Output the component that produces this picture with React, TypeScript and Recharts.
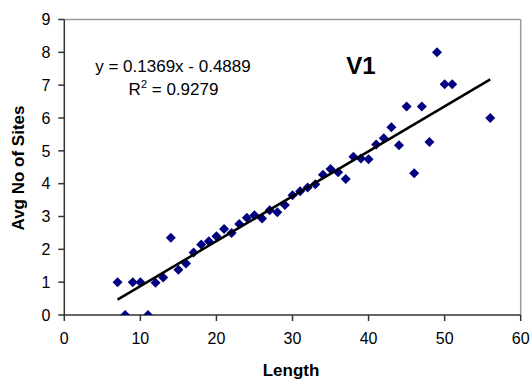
import React from "react";
import { ScatterChart, Scatter, XAxis, YAxis, ReferenceLine } from "recharts";

const lengths = [7, 8, 9, 10, 11, 12, 13, 14, 15, 16, 17, 18, 19, 20, 21, 22, 23, 24, 25, 26, 27, 28, 29, 30, 31, 32, 33, 34, 35, 36, 37, 38, 39, 40, 41, 42, 43, 44, 45, 46, 47, 48, 49, 50, 51, 56];
const avgSites = [1.0, 0, 1.0, 1.0, 0, 0.98, 1.14, 2.35, 1.38, 1.57, 1.9, 2.15, 2.25, 2.4, 2.62, 2.5, 2.77, 2.96, 3.04, 2.94, 3.19, 3.13, 3.35, 3.65, 3.77, 3.88, 3.98, 4.27, 4.45, 4.35, 4.14, 4.82, 4.77, 4.74, 5.19, 5.38, 5.72, 5.17, 6.35, 4.32, 6.35, 5.27, 8.0, 7.03, 7.03, 6.0];
const xTicks = [0, 10, 20, 30, 40, 50, 60];
const yTicks = [0, 1, 2, 3, 4, 5, 6, 7, 8, 9];
const trendSlope = 0.1369;
const trendIntercept = -0.4889;
const trendRange = [7, 56];

const points = lengths.map((x, i) => ({ x, y: avgSites[i] }));
const trend = trendRange.map((x) => ({ x, y: trendSlope * x + trendIntercept }));

const FONT = "'Liberation Sans', Arial, sans-serif";

const Diamond = (props: any) => {
  const { cx, cy } = props;
  const r = 5;
  return (
    <polygon
      points={`${cx},${cy - r} ${cx + r},${cy} ${cx},${cy + r} ${cx - r},${cy}`}
      fill="#000080"
    />
  );
};

const NoShape = () => <g />;

export default function App() {
  return (
    <div style={{ position: "absolute", left: 0, top: 0, width: 532, height: 381, background: "#fff" }}>
      <ScatterChart
        width={532}
        height={381}
        margin={{ top: 19.5, right: 11.3, bottom: 36, left: 0 }}
        style={{ fontFamily: FONT }}
      >
        <XAxis
          type="number"
          dataKey="x"
          domain={[0, 60]}
          ticks={xTicks}
          height={30}
          tickSize={6}
          tickMargin={12}
          axisLine={{ stroke: "#333", strokeWidth: 1.5 }}
          tickLine={{ stroke: "#333", strokeWidth: 1.5 }}
          tick={{ fill: "#000", fontSize: 16, fontFamily: FONT }}
          allowDataOverflow
        />
        <YAxis
          type="number"
          dataKey="y"
          domain={[0, 9]}
          ticks={yTicks}
          width={64.3}
          tickSize={6}
          tickMargin={8}
          axisLine={{ stroke: "#333", strokeWidth: 1.5 }}
          tickLine={{ stroke: "#333", strokeWidth: 1.5 }}
          tick={{ fill: "#000", fontSize: 16, fontFamily: FONT }}
          allowDataOverflow
        />
        <ReferenceLine y={9} stroke="#999" strokeWidth={1.5} />
        <ReferenceLine x={60} stroke="#999" strokeWidth={1.5} />
        <Scatter data={points} shape={Diamond} isAnimationActive={false} />
        <Scatter
          data={trend}
          shape={NoShape}
          line={{ stroke: "#000", strokeWidth: 2.5 }}
          isAnimationActive={false}
        />
      </ScatterChart>
      <svg
        width={532}
        height={381}
        style={{ position: "absolute", left: 0, top: 0, pointerEvents: "none", fontFamily: FONT }}
      >
        <text x={173} y={72} fontSize={17} textAnchor="middle" fill="#000">
          y = 0.1369x - 0.4889
        </text>
        <text x={173.5} y={95} fontSize={17} textAnchor="middle" fill="#000">
          R<tspan dy={-7} fontSize={11}>2</tspan>
          <tspan dy={7}> = 0.9279</tspan>
        </text>
        <text x={361} y={74} fontSize={24} fontWeight="bold" textAnchor="middle" fill="#000">
          V1
        </text>
        <text x={291} y={376} fontSize={17} fontWeight="bold" textAnchor="middle" fill="#000">
          Length
        </text>
        <text
          x={0}
          y={0}
          fontSize={17}
          fontWeight="bold"
          textAnchor="middle"
          fill="#000"
          transform="translate(23.5,168) rotate(-90)"
        >
          Avg No of Sites
        </text>
      </svg>
    </div>
  );
}
